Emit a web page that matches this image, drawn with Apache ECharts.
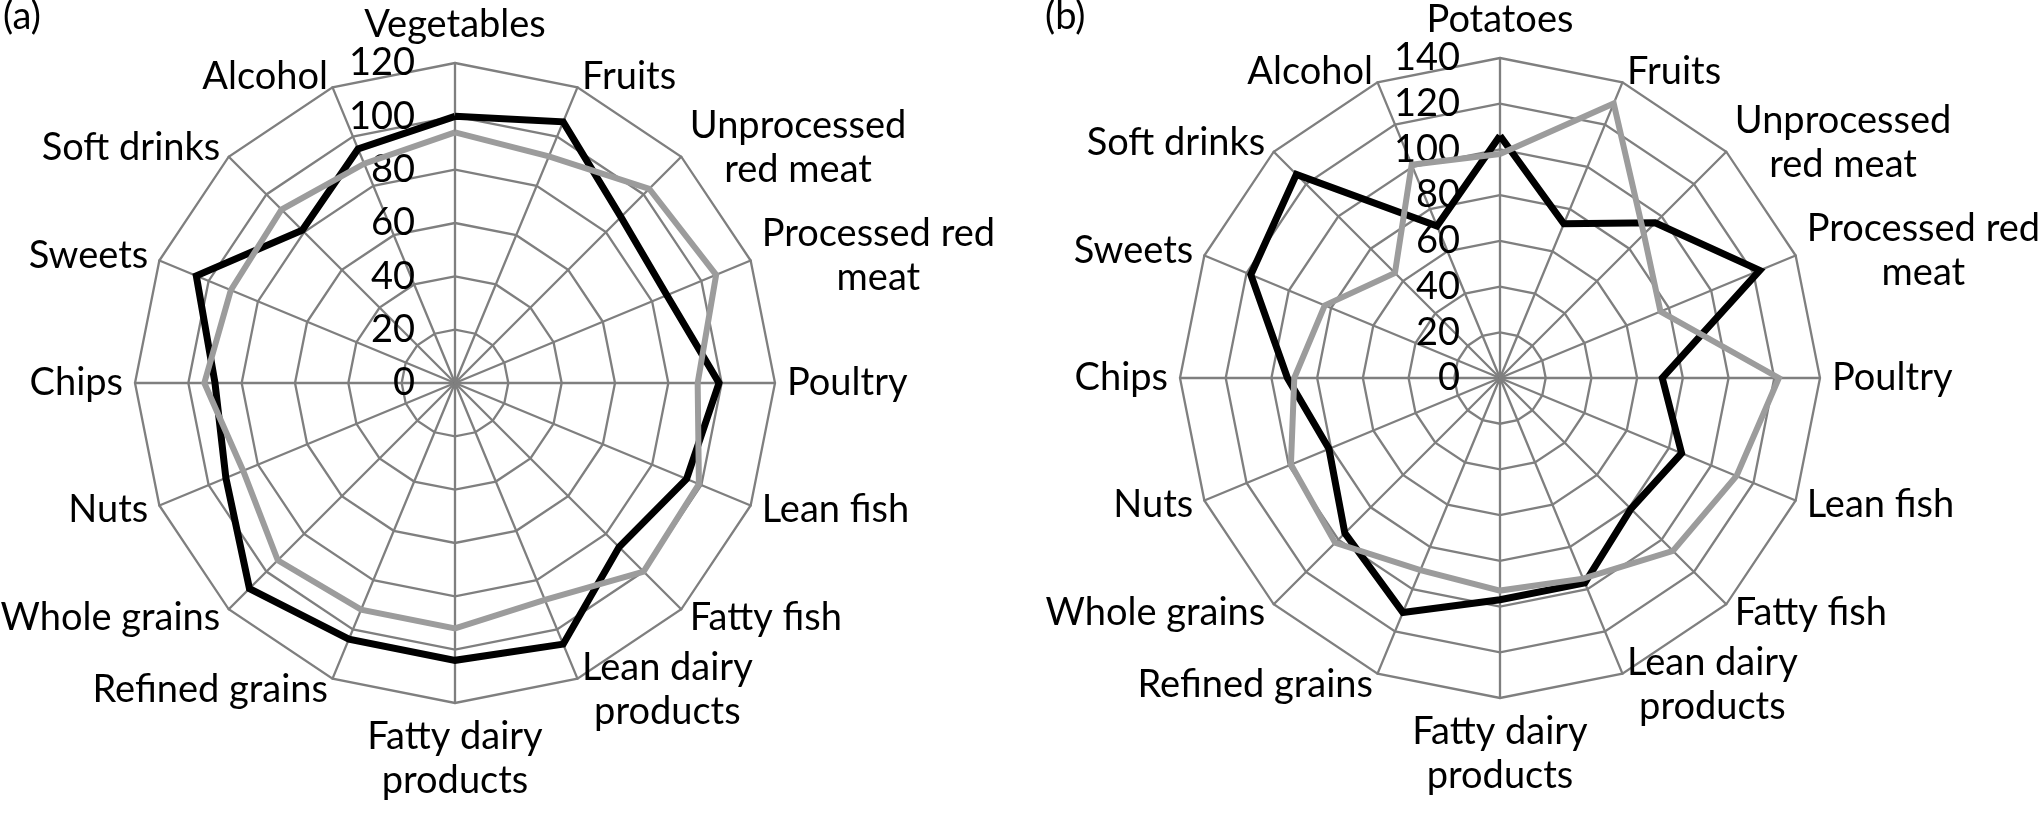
<!DOCTYPE html>
<html>
<head>
<meta charset="utf-8">
<title>Radar charts (a) and (b)</title>
<script src="https://cdn.jsdelivr.net/npm/echarts@6/dist/echarts.min.js"></script>
<style>
  html, body { margin: 0; padding: 0; background: #fff; }
  #chart { width: 2043px; height: 815px; }
</style>
</head>
<body>
<div id="chart"></div>
<script>
// categories, clockwise starting at the top axis
var catsA = ['Vegetables', 'Fruits', 'Unprocessed\nred meat', 'Processed red\nmeat', 'Poultry', 'Lean fish',
  'Fatty fish', 'Lean dairy\nproducts', 'Fatty dairy\nproducts', 'Refined grains', 'Whole grains', 'Nuts',
  'Chips', 'Sweets', 'Soft drinks', 'Alcohol']
var catsB = ['Potatoes', 'Fruits', 'Unprocessed\nred meat', 'Processed red\nmeat', 'Poultry', 'Lean fish',
  'Fatty fish', 'Lean dairy\nproducts', 'Fatty dairy\nproducts', 'Refined grains', 'Whole grains', 'Nuts',
  'Chips', 'Sweets', 'Soft drinks', 'Alcohol']

// tick labels on the first axis
var ticksA = [0, 20, 40, 60, 80, 100, 120]
var ticksB = [0, 20, 40, 60, 80, 100, 120, 140]

// (a)
var blackA = [100, 106, 88, 86, 99, 94, 87, 106, 104, 104, 109, 93, 90, 105, 81, 95]
var greyA = [94, 92, 103, 106, 91, 99, 100, 88, 92, 92, 94, 86, 94, 91, 92, 89]
// (b)
var blackB = [106, 73, 96, 123, 71, 86, 81, 97, 97, 111, 96, 81, 93, 118, 126, 72]
var greyB = [98, 130, 89, 76, 122, 112, 107, 95, 93, 91, 102, 99, 90, 83, 65, 101]

var FONT = 'Lato'
var gridColor = '#7f7f7f'

// echarts lays radar axes out counter-clockwise, the source chart goes clockwise:
// keep the first axis on top and flip the rest
function cw(arr) {
  return [arr[0]].concat(arr.slice(1).reverse())
}

function indicators(cats, ticks) {
  return cw(cats).map(function (c, i) {
    var ind = { name: c, min: ticks[0], max: ticks[ticks.length - 1] }
    // only the top axis carries the value labels
    if (i === 0) {
      ind.axisLabel = { show: true }
    }
    return ind
  })
}

function radarOpt(center, cats, ticks) {
  return {
    center: center,
    radius: 320,
    startAngle: 90,
    shape: 'polygon',
    splitNumber: ticks.length - 1,
    indicator: indicators(cats, ticks),
    axisNameGap: 12,
    axisName: {
      color: '#000',
      fontSize: 38,
      fontFamily: FONT,
      formatter: function (name) {
        return name.split('\n').map(function (s) { return '{c|' + s + '}' }).join('\n')
      },
      rich: {
        c: { align: 'center', fontSize: 38, fontFamily: FONT, color: '#000', lineHeight: 44 }
      }
    },
    axisLine: { show: true, lineStyle: { color: gridColor, width: 2.3 } },
    axisTick: { show: false },
    axisLabel: {
      show: false,
      color: '#000',
      fontSize: 38,
      fontFamily: FONT,
      margin: 40
    },
    splitLine: { show: true, lineStyle: { color: gridColor, width: 2.3 } },
    splitArea: { show: false }
  }
}

function radarSeries(idx, black, grey) {
  return {
    type: 'radar',
    radarIndex: idx,
    symbol: 'none',
    silent: true,
    data: [
      { value: cw(black), lineStyle: { color: '#000', width: 7, join: 'miter' } },
      { value: cw(grey), lineStyle: { color: '#9c9c9c', width: 6, join: 'miter' } }
    ]
  }
}

var chart = echarts.init(document.getElementById('chart'))
var option = {
  backgroundColor: '#fff',
  animation: false,
  title: [
    { text: '(a)', left: -2, top: -7, textStyle: { fontSize: 38, fontWeight: 'normal', fontFamily: FONT, color: '#000' } },
    { text: '(b)', left: 1040, top: -7, textStyle: { fontSize: 38, fontWeight: 'normal', fontFamily: FONT, color: '#000' } }
  ],
  radar: [
    radarOpt([455, 383], catsA, ticksA),
    radarOpt([1500, 378], catsB, ticksB)
  ],
  series: [
    radarSeries(0, blackA, greyA),
    radarSeries(1, blackB, greyB)
  ]
}
chart.setOption(option)
</script>
</body>
</html>
